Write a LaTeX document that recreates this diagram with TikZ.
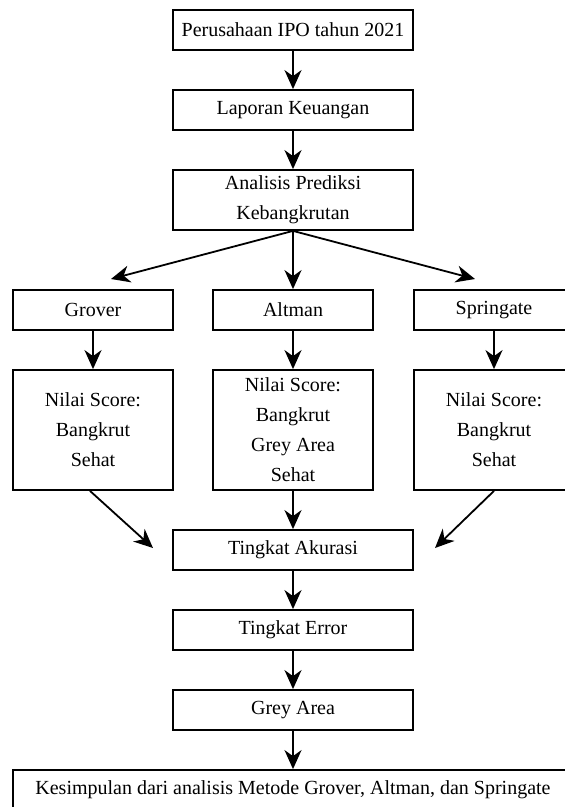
\documentclass[tikz,border=0pt]{standalone}
\usepackage{fontspec}
\setmainfont{Liberation Serif}
\usetikzlibrary{arrows.meta,positioning}

\begin{document}
\begin{tikzpicture}[x=1pt,y=-1pt,line width=1.8pt,
  box/.style={draw,black,align=center,inner sep=0pt,minimum width=240pt,minimum height=40pt},
  small/.style={box,minimum width=160pt},
  arr/.style={-{Stealth[length=19pt,width=17pt,inset=6pt]}}]
 \fontsize{20}{30}\selectfont
 \pgfmathsetmacro{\xmid}{293}
 \pgfmathsetmacro{\xleft}{93}
 \pgfmathsetmacro{\xright}{494}

 % page frame, the picture is cut at the right and bottom edge
 \useasboundingbox (0,0) rectangle (565,807);
 \clip (0,0) rectangle (565,807);

 % main column
 \node[box] (ipo) at (\xmid,30) {Perusahaan IPO tahun 2021};
 \node[box] (lapkeu) at (\xmid,110) {Laporan Keuangan};
 \node[box,minimum height=60pt] (analisis) at (\xmid,200) {Analisis Prediksi\\Kebangkrutan};

 % the three methods
 \node[small] (grover) at (\xleft,310) {Grover};
 \node[small] (altman) at (\xmid,310) {Altman};
 \node[small] (springate) at (\xright,310) {Springate};
 \node[small,minimum height=120pt] (nilaiG) at (\xleft,430) {Nilai Score:\\Bangkrut\\Sehat};
 \node[small,minimum height=120pt] (nilaiA) at (\xmid,430) {Nilai Score:\\Bangkrut\\Grey Area\\Sehat};
 \node[small,minimum height=120pt] (nilaiS) at (\xright,430) {Nilai Score:\\Bangkrut\\Sehat};

 % results
 \node[box] (akurasi) at (\xmid,550) {Tingkat Akurasi};
 \node[box] (error) at (\xmid,630) {Tingkat Error};
 \node[box] (grey) at (\xmid,710) {Grey Area};
 \node[box,minimum width=560pt] (kesimpulan) at (\xmid,790) {Kesimpulan dari analisis Metode Grover, Altman, dan Springate};

 % free arrow ends
 \coordinate (tipG) at (111,279);
 \coordinate (tipS) at (475,279);
 \coordinate (tipGA) at (153,548);
 \coordinate (tipSA) at (435,548);

 % connectors
 \draw[arr] (ipo) -- (lapkeu);
 \draw[arr] (lapkeu) -- (analisis);
 \draw[arr] (analisis.south) -- (tipG);
 \draw[arr] (analisis) -- (altman);
 \draw[arr] (analisis.south) -- (tipS);
 \draw[arr] (grover) -- (nilaiG);
 \draw[arr] (altman) -- (nilaiA);
 \draw[arr] (springate) -- (nilaiS);
 \draw[arr] ([xshift=-3pt]nilaiG.south) -- (tipGA);
 \draw[arr] (nilaiA) -- (akurasi);
 \draw[arr] (nilaiS.south) -- (tipSA);
 \draw[arr] (akurasi) -- (error);
 \draw[arr] (error) -- (grey);
 \draw[arr] (grey) -- (kesimpulan);
\end{tikzpicture}
\end{document}
